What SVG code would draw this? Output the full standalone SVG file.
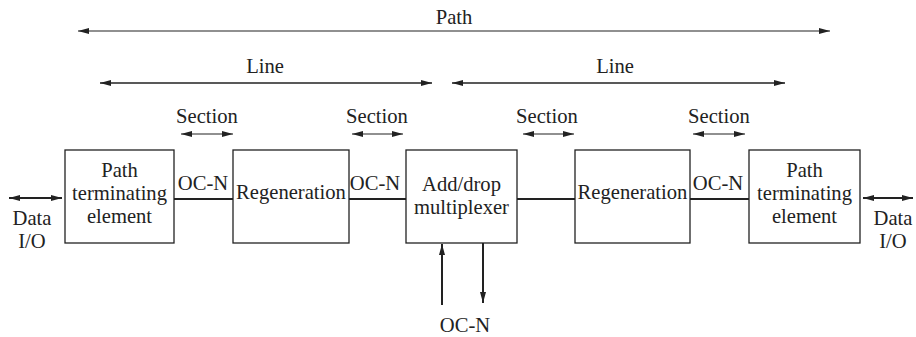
<svg xmlns="http://www.w3.org/2000/svg" width="916" height="337" viewBox="0 0 916 337">
<style>
text{font-family:'Liberation Serif','DejaVu Serif',serif;font-size:20.6px;fill:#222;text-anchor:middle}
.box{fill:#fff;stroke:#222;stroke-width:1.3}
.ln{stroke:#222;fill:none}
.thin{stroke-width:1.2}
.mid{stroke-width:1.6}
.thick{stroke-width:2}
</style>
<defs>
<marker id="ah" markerUnits="userSpaceOnUse" markerWidth="12" markerHeight="8" refX="11" refY="4" orient="auto-start-reverse" viewBox="0 0 12 8">
<path d="M0,1 L11,4 L0,7 z" fill="#222"/>
</marker>
</defs>
<g id="connectors">
<line class="ln thin" x1="78" y1="31" x2="830" y2="31" marker-start="url(#ah)" marker-end="url(#ah)"/>
<line class="ln mid" x1="100" y1="83" x2="432" y2="83" marker-start="url(#ah)" marker-end="url(#ah)"/>
<line class="ln mid" x1="452" y1="83" x2="785" y2="83" marker-start="url(#ah)" marker-end="url(#ah)"/>
<line class="ln thin" x1="181" y1="134" x2="233" y2="134" marker-start="url(#ah)" marker-end="url(#ah)"/>
<line class="ln thin" x1="352" y1="134" x2="403" y2="134" marker-start="url(#ah)" marker-end="url(#ah)"/>
<line class="ln thin" x1="523" y1="134" x2="574" y2="134" marker-start="url(#ah)" marker-end="url(#ah)"/>
<line class="ln thin" x1="693" y1="134" x2="745" y2="134" marker-start="url(#ah)" marker-end="url(#ah)"/>
<line class="ln thick" x1="9" y1="198" x2="62" y2="198" marker-start="url(#ah)" marker-end="url(#ah)"/>
<line class="ln thick" x1="863" y1="198" x2="913" y2="198" marker-start="url(#ah)" marker-end="url(#ah)"/>
<line class="ln thick" x1="174" y1="199" x2="233" y2="199"/>
<line class="ln thick" x1="349" y1="199" x2="406" y2="199"/>
<line class="ln thick" x1="517" y1="199" x2="575" y2="199"/>
<line class="ln thick" x1="690" y1="199" x2="749" y2="199"/>
<line class="ln thick" x1="442" y1="305" x2="442" y2="244" marker-end="url(#ah)"/>
<line class="ln thick" x1="483" y1="243" x2="483" y2="303" marker-end="url(#ah)"/>
</g>
<g id="labels">
<text x="454" y="24">Path</text>
<text x="265" y="73">Line</text>
<text x="615" y="73">Line</text>
<text x="207" y="123">Section</text>
<text x="377" y="123">Section</text>
<text x="547" y="123">Section</text>
<text x="719" y="123">Section</text>
<text x="203" y="190">OC-N</text>
<text x="375" y="190">OC-N</text>
<text x="718" y="190">OC-N</text>
<text x="32" y="225">Data</text>
<text x="32" y="248">I/O</text>
<text x="893" y="225">Data</text>
<text x="893" y="248">I/O</text>
<text x="465" y="332">OC-N</text>
</g>
<g id="pte1">
<rect class="box" x="65" y="150" width="109" height="93"/>
<text x="119.5" y="177">Path</text>
<text x="119.5" y="200">terminating</text>
<text x="119.5" y="223">element</text>
</g>
<g id="regen1">
<rect class="box" x="233" y="150" width="116" height="93"/>
<text x="291" y="199">Regeneration</text>
</g>
<g id="adm">
<rect class="box" x="406" y="150" width="111" height="93"/>
<text x="461.5" y="191">Add/drop</text>
<text x="461.5" y="214">multiplexer</text>
</g>
<g id="regen2">
<rect class="box" x="575" y="150" width="115" height="93"/>
<text x="632.5" y="199">Regeneration</text>
</g>
<g id="pte2">
<rect class="box" x="749" y="150" width="111" height="93"/>
<text x="804.5" y="177">Path</text>
<text x="804.5" y="200">terminating</text>
<text x="804.5" y="223">element</text>
</g>
</svg>
